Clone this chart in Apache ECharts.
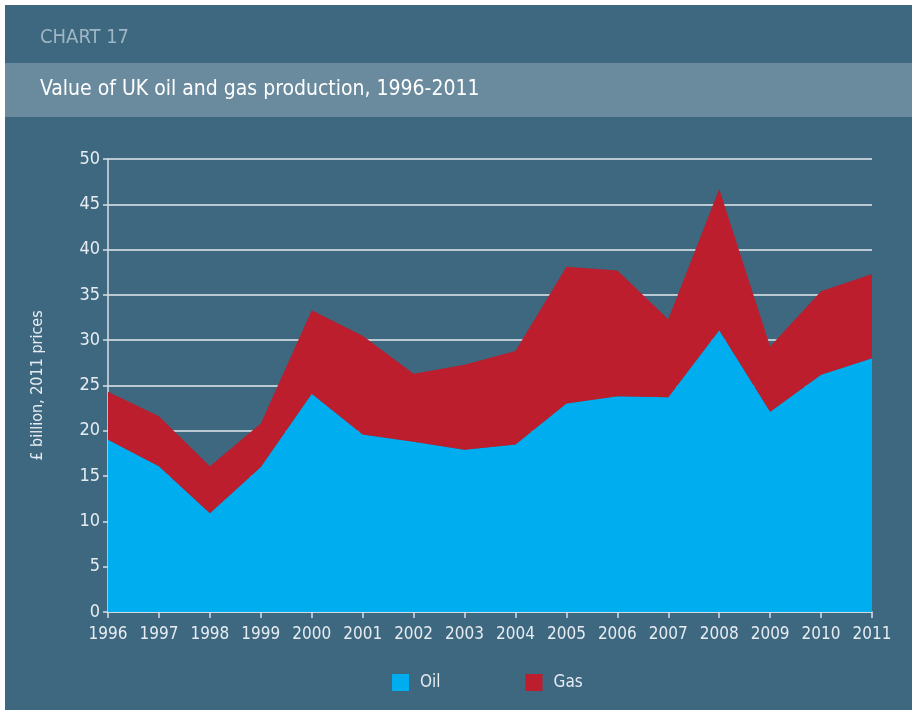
<!DOCTYPE html>
<html>
<head>
<meta charset="utf-8">
<style>
  html, body { margin: 0; padding: 0; background: #ffffff; }
  #chart { width: 917px; height: 713px; }
</style>
<script src="https://cdn.jsdelivr.net/npm/echarts@6/dist/echarts.min.js"></script>
</head>
<body>
<div id="chart"></div>
<script>
const years = ['1996', '1997', '1998', '1999', '2000', '2001', '2002', '2003',
  '2004', '2005', '2006', '2007', '2008', '2009', '2010', '2011'];
const oil = [19.0, 16.1, 10.9, 16.0, 24.1, 19.6, 18.8, 17.9, 18.5, 23.0, 23.8, 23.7, 31.1, 22.1, 26.2, 28.0];
const gas = [5.3, 5.5, 5.2, 4.8, 9.2, 10.9, 7.5, 9.4, 10.3, 15.1, 13.9, 8.6, 15.6, 7.2, 9.2, 9.3];

const fontName = '"Liberation Sans Narrow", "DejaVu Sans Condensed", sans-serif';
const panel = '#3e6780';
const textCol = '#e6ecf0';

const chart = echarts.init(document.getElementById('chart'));

chart.setOption({
  backgroundColor: '#ffffff',
  textStyle: { fontFamily: fontName },
  graphic: [
    { type: 'rect', z: -10, shape: { x: 5, y: 5, width: 907, height: 705 }, style: { fill: panel } },
    { type: 'rect', z: -9, shape: { x: 5, y: 63, width: 907, height: 54 }, style: { fill: '#6a8a9e' } },
    { type: 'text', left: 40, top: 28, style: { text: 'CHART 17', fill: '#9fb6c4', font: '20px ' + fontName } },
    { type: 'text', left: 40, top: 79, style: { text: 'Value of UK oil and gas production, 1996-2011', fill: '#ffffff', font: '21px ' + fontName } }
  ],
  legend: {
    top: 669,
    left: 387,
    itemWidth: 17,
    itemHeight: 17,
    itemGap: 85,
    icon: 'rect',
    textStyle: { color: textCol, fontSize: 17, fontFamily: fontName, padding: [0, 0, 0, 6] },
    data: ['Oil', 'Gas']
  },
  grid: { left: 108, right: 45, top: 159, bottom: 101 },
  xAxis: {
    type: 'category',
    data: years,
    boundaryGap: false,
    axisLine: { lineStyle: { color: '#d8e0e6', width: 1.5 } },
    axisTick: { show: true, length: 6, lineStyle: { color: '#d8e0e6', width: 1.5 } },
    axisLabel: { color: textCol, fontSize: 17, margin: 14, fontFamily: fontName },
    splitLine: { show: false }
  },
  yAxis: {
    type: 'value',
    min: 0,
    max: 50,
    interval: 5,
    name: '£ billion, 2011 prices',
    nameLocation: 'middle',
    nameGap: 62,
    nameTextStyle: { color: textCol, fontSize: 16, fontFamily: fontName },
    axisLine: { show: true, lineStyle: { color: '#d8e0e6', width: 1.5 } },
    axisTick: { show: true, length: 5, lineStyle: { color: '#d8e0e6', width: 1.5 } },
    axisLabel: { color: textCol, fontSize: 18, margin: 8, fontFamily: fontName },
    splitLine: { show: true, lineStyle: { color: '#e4eaee', width: 1.5 } }
  },
  series: [
    {
      name: 'Oil',
      type: 'line',
      stack: 'total',
      data: oil,
      symbol: 'none',
      lineStyle: { width: 0 },
      itemStyle: { color: '#00adee' },
      areaStyle: { color: '#00adee', opacity: 1 },
      z: 3
    },
    {
      name: 'Gas',
      type: 'line',
      stack: 'total',
      data: gas,
      symbol: 'none',
      lineStyle: { width: 0 },
      itemStyle: { color: '#bc1e2d' },
      areaStyle: { color: '#bc1e2d', opacity: 1 },
      z: 3
    }
  ]
});
</script>
</body>
</html>
